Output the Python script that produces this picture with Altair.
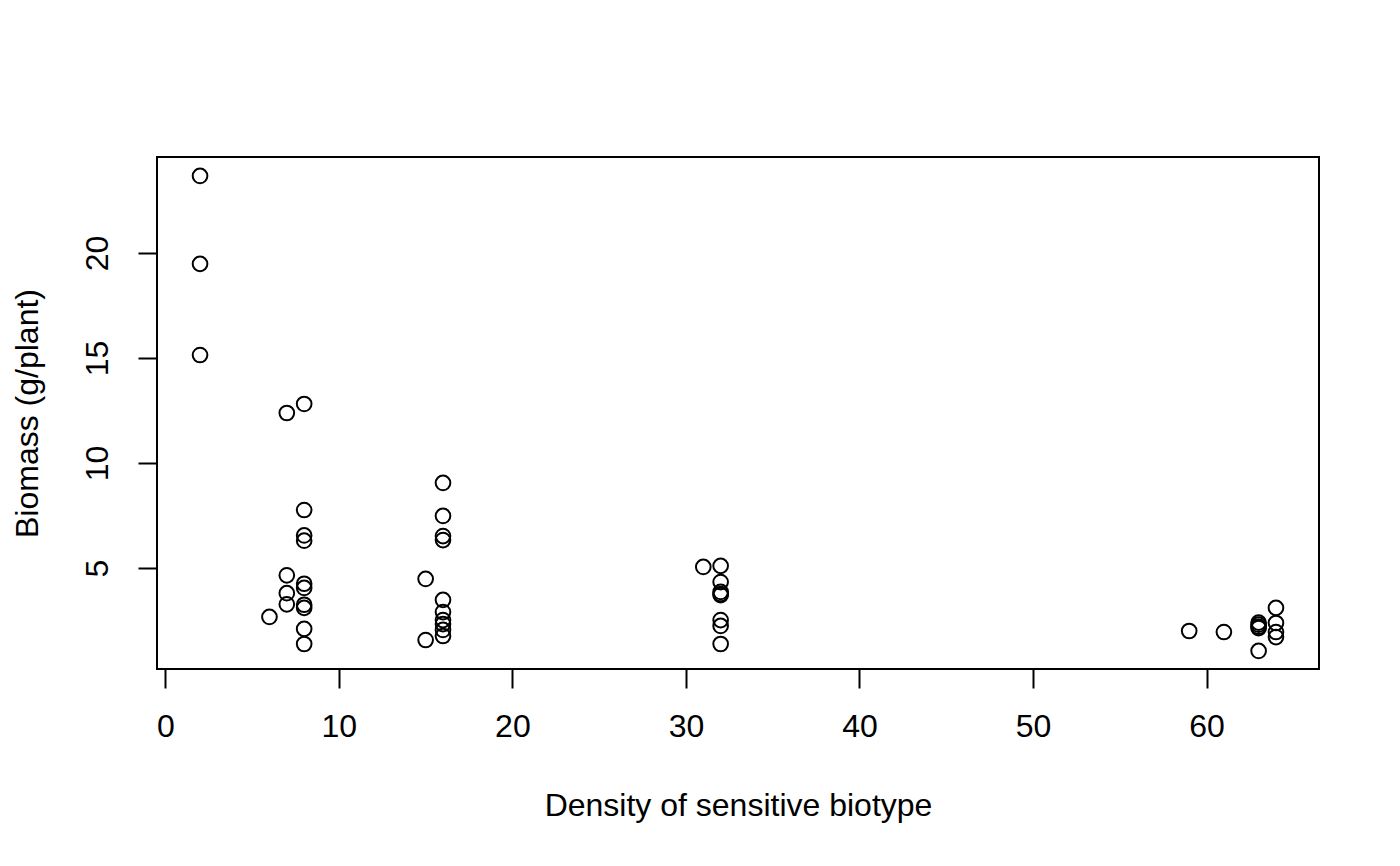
import altair as alt
import pandas as pd

density = (
    [2, 2, 2]
    + [6]
    + [7, 7, 7, 7]
    + [8] * 10
    + [15, 15]
    + [16] * 10
    + [31]
    + [32] * 8
    + [59, 61]
    + [63] * 5
    + [64] * 4
)
biomass = (
    [23.67, 19.48, 15.14]
    + [2.67]
    + [12.38, 4.65, 3.80, 3.27]
    + [12.81, 7.76, 6.55, 6.30, 4.25, 4.05, 3.25, 3.10, 2.10, 1.38]
    + [4.48, 1.57]
    + [9.05, 7.48, 6.52, 6.33, 3.48, 2.90, 2.52, 2.33, 2.05, 1.76]
    + [5.05]
    + [5.10, 4.33, 3.86, 3.76, 3.71, 2.52, 2.24, 1.38]
    + [2.00, 1.95]
    + [2.40, 2.30, 2.20, 2.14, 1.05]
    + [3.10, 2.38, 1.95, 1.71]
)
x_ticks = [0, 10, 20, 30, 40, 50, 60]
y_ticks = [5, 10, 15, 20]

df = pd.DataFrame({"density": density, "biomass": biomass})

FONT = "Liberation Sans"
FS = 32

chart = (
    alt.Chart(df)
    .mark_point(shape="circle", filled=False, color="black", size=215, strokeWidth=2, opacity=1)
    .encode(
        x=alt.X(
            "density:Q",
            scale=alt.Scale(domain=[-0.48, 66.48], nice=False, zero=False),
            axis=alt.Axis(
                values=x_ticks,
                title="Density of sensitive biotype",
                grid=False,
                domain=False,
                tickColor="black",
                tickWidth=2,
                tickSize=19,
                labelFont=FONT,
                labelFontSize=FS,
                labelColor="black",
                labelPadding=23,
                labelFlush=False,
                labelOverlap=False,
                titleFont=FONT,
                titleFontSize=FS,
                titleFontWeight="normal",
                titleColor="black",
                titleY=136,
                titleBaseline="middle",
            ),
        ),
        y=alt.Y(
            "biomass:Q",
            scale=alt.Scale(domain=[0.19, 24.57], nice=False, zero=False),
            axis=alt.Axis(
                values=y_ticks,
                title="Biomass (g/plant)",
                grid=False,
                domain=False,
                tickColor="black",
                tickWidth=2,
                tickSize=19,
                labelFont=FONT,
                labelFontSize=FS,
                labelColor="black",
                labelAngle=-90,
                labelAlign="center",
                labelBaseline="bottom",
                labelPadding=24,
                labelFlush=False,
                labelOverlap=False,
                titleFont=FONT,
                titleFontSize=FS,
                titleFontWeight="normal",
                titleColor="black",
                titleAngle=-90,
                titleX=-130,
                titleBaseline="middle",
                titleAlign="center",
            ),
        ),
    )
    .properties(
        width=1162,
        height=512,
        background="white",
        autosize=alt.AutoSizeParams(type="none"),
        padding={"left": 149, "top": 149, "right": 73, "bottom": 189},
    )
    .configure_view(stroke="black", strokeWidth=2)
)

chart.save("out.html", embed_options={"renderer": "svg", "actions": False})
